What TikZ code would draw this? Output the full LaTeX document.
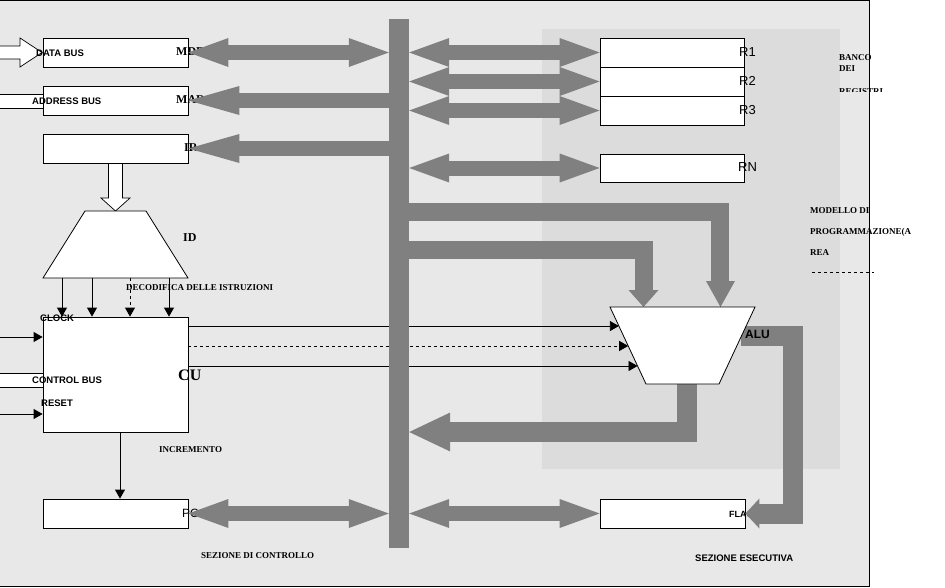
\documentclass[tikz,border=0pt]{standalone}
\usepackage{fontspec}
\setmainfont{Liberation Serif}
\setsansfont{Liberation Sans}
\usetikzlibrary{arrows.meta,calc}
\definecolor{panel}{HTML}{E8E8E8}
\definecolor{bank}{HTML}{DCDCDC}
\definecolor{busgray}{HTML}{808080}

\begin{document}
\begin{tikzpicture}[x=1pt,y=-1pt,
  regbox/.style={draw,fill=white,line width=0.8pt,minimum width=145pt,minimum height=29pt,inner sep=0pt},
  tag/.style={inner sep=0pt,anchor=west,font=\sffamily\bfseries\fontsize{9.5}{10}\selectfont},
  note/.style={inner sep=0pt,anchor=west,font=\bfseries\fontsize{9}{10}\selectfont},
  regname/.style={inner sep=0pt,anchor=west,font=\sffamily\fontsize{13}{14}\selectfont},
  bigname/.style={inner sep=0pt,anchor=west,font=\bfseries\fontsize{12}{14}\selectfont},
  wire/.style={line width=0.8pt,-{Triangle[length=9pt,width=10pt]}},
  hollow/.style={draw,fill=white,line width=0.7pt},
  busone/.style={busgray,line width=15pt,-{Triangle[length=51pt,width=29pt,line width=0pt]}},
  bustwo/.style={busgray,line width=15pt,{Triangle[length=40pt,width=29pt,line width=0pt]}-{Triangle[length=40pt,width=29pt,line width=0pt]}}]
\useasboundingbox (0,0) rectangle (945,587);

% Background
\fill[panel] (0,0) rectangle (869,586);
\fill[bank] (542,29) rectangle (840,469);
\node[minimum width=20pt,minimum height=529pt,inner sep=0pt] (bus) at (399,283.5) {};

% Hollow inputs
\filldraw[hollow] (0,46) -- (20,46) -- (20,38) -- (42,52.5) -- (20,67) -- (20,59) -- (0,59);
\filldraw[hollow] (0,94) -- (43,94) -- (43,108) -- (0,108);
\filldraw[hollow] (0,373) -- (43,373) -- (43,387) -- (0,387);
\filldraw[hollow] (108.5,163) -- (108.5,198) -- (101,198) -- (115.5,211) -- (130,198) -- (122.5,198) -- (122.5,163);

% Control section
\node[regbox] (mdr) at (115.5,52.5) {};
\node[regbox] (mar) at (115.5,100.5) {};
\node[regbox] (ir) at (115.5,148.5) {};
\node[regbox] (pc) at (115.5,513.5) {};
\node[regbox,minimum height=115pt] (cu) at (115.5,374.5) {};
\coordinate (idsw) at (43,278);
\filldraw[hollow,line width=0.8pt] (85,211) -- (146,211) -- (188,278) -- (idsw) -- cycle;

% Registers
\node[regbox,minimum width=144pt] (r1) at (672,52.5) {};
\node[regbox,minimum width=144pt] (r2) at (672,81.5) {};
\node[regbox,minimum width=144pt] (r3) at (672,110.5) {};
\node[regbox,minimum width=144pt,minimum height=28pt] (rn) at (672,168) {};
\node[regbox] (flag) at (672.5,513.5) {};

% Labels under the arrows
\node[bigname] at (176,52) {MDR};
\node[bigname] at (176,100) {MAR};
\node[bigname] at (184,148) {IR};
\node[regname,font=\sffamily\fontsize{12}{14}\selectfont] at (182,513) {PC};
\node[regname] at (739,52) {R1};
\node[regname] at (739,81) {R2};
\node[regname] at (739,110) {R3};
\node[regname] at (738,167) {RN};
\node[tag,font=\sffamily\bfseries\fontsize{9}{10}\selectfont] at (729,514) {FLAG};

% ALU corners
\coordinate (alunw) at (610,307);
\coordinate (alune) at (755,307);
\coordinate (aluse) at (719,384);
\coordinate (alusw) at (646,384);
\coordinate (aluin1) at ($(alunw)!0.247!(alusw)$);
\coordinate (aluin2) at ($(alunw)!0.506!(alusw)$);
\coordinate (aluin3) at ($(alunw)!0.766!(alusw)$);

% Wires
\foreach \x in {62,92,169}
  \draw[wire] (idsw -| \x,0) -- (cu.north -| \x,0);
\draw[wire,dashed] (idsw -| 130,0) -- (cu.north -| 130,0);
\draw[wire] (0,337) -- (cu.west |- 0,337);
\draw[wire] (0,414) -- (cu.west |- 0,414);
\draw[wire] (cu.south -| 120,0) -- (pc.north -| 120,0);
\draw[wire] (aluin1 -| cu.east) -- (aluin1);
\draw[wire,dashed] (aluin2 -| cu.east) -- (aluin2);
\draw[wire] (aluin3 -| cu.east) -- (aluin3);

% Data paths to and from the ALU
\draw[busgray,line width=18pt,-{Triangle[length=26pt,width=29pt,line width=0pt]}]
  (bus.east |- 0,212) -| ($(alunw)!0.762!(alune)$);
\draw[busgray,line width=18pt,-{Triangle[length=17pt,width=30pt,line width=0pt]}]
  (bus.east |- 0,250) -| ($(alunw)!0.231!(alune)$);
\draw[busgray,line width=20pt,-{Triangle[length=41pt,width=39pt,line width=0pt]}]
  ($(alusw)!0.56!(aluse)$) |- (bus.east |- 0,432);
\draw[busgray,line width=20pt,-{Triangle[length=14pt,width=30pt,line width=0pt]}]
  ($(alune)!0.38!(aluse)$) -- ++(52,0) |- (flag.east);
\filldraw[hollow,line width=0.8pt] (alunw) -- (alune) -- (aluse) -- (alusw) -- cycle;

% Internal bus
\fill[busgray] (bus.north west) rectangle (bus.south east);
\draw[bustwo] (mdr.east) -- (mdr.east -| bus.west);
\draw[busone] (mar.east -| bus.west) -- (mar.east);
\draw[busone] (ir.east -| bus.west) -- (ir.east);
\draw[bustwo] (pc.east) -- (pc.east -| bus.west);
\draw[bustwo] (r1.west -| bus.east) -- (r1.west);
\draw[bustwo] (r2.west -| bus.east) -- (r2.west);
\draw[bustwo] (r3.west -| bus.east) -- (r3.west);
\draw[bustwo] (rn.west -| bus.east) -- (rn.west);
\draw[bustwo] (flag.west -| bus.east) -- (flag.west);

% Texts
\node[tag] at (36,53) {DATA BUS};
\node[tag] at (32,101) {ADDRESS BUS};
\node[tag] at (40,318) {CLOCK};
\node[tag] at (32,380) {CONTROL BUS};
\node[tag] at (41,403) {RESET};
\node[bigname] at (183,238) {ID};
\node[bigname,font=\bfseries\fontsize{16}{18}\selectfont] at (178,375) {CU};
\node[note] at (126,288) {DECODIFICA DELLE ISTRUZIONI};
\node[note] at (159,450) {INCREMENTO};
\node[note] at (201,556) {SEZIONE DI CONTROLLO};
\node[tag,font=\sffamily\bfseries\fontsize{12}{14}\selectfont] at (745,334) {ALU};
\node[tag] at (695,558) {SEZIONE ESECUTIVA};
\node[note] at (839,58) {BANCO};
\node[note] at (839,69) {DEI};
\begin{scope}
  \clip (830,80) rectangle (900,91);
  \node[note] at (839,92) {REGISTRI};
\end{scope}
\node[note] at (810,211) {MODELLO DI};
\node[note] at (810,232) {PROGRAMMAZIONE(A};
\node[note] at (810,253) {REA};
\draw[dashed,line width=0.8pt] (812,272) -- (874,272);

% Frame
\draw[line width=1pt] (-1,0.5) -- (869,0.5) -- (869,586) -- (-1,586);
\end{tikzpicture}
\end{document}
